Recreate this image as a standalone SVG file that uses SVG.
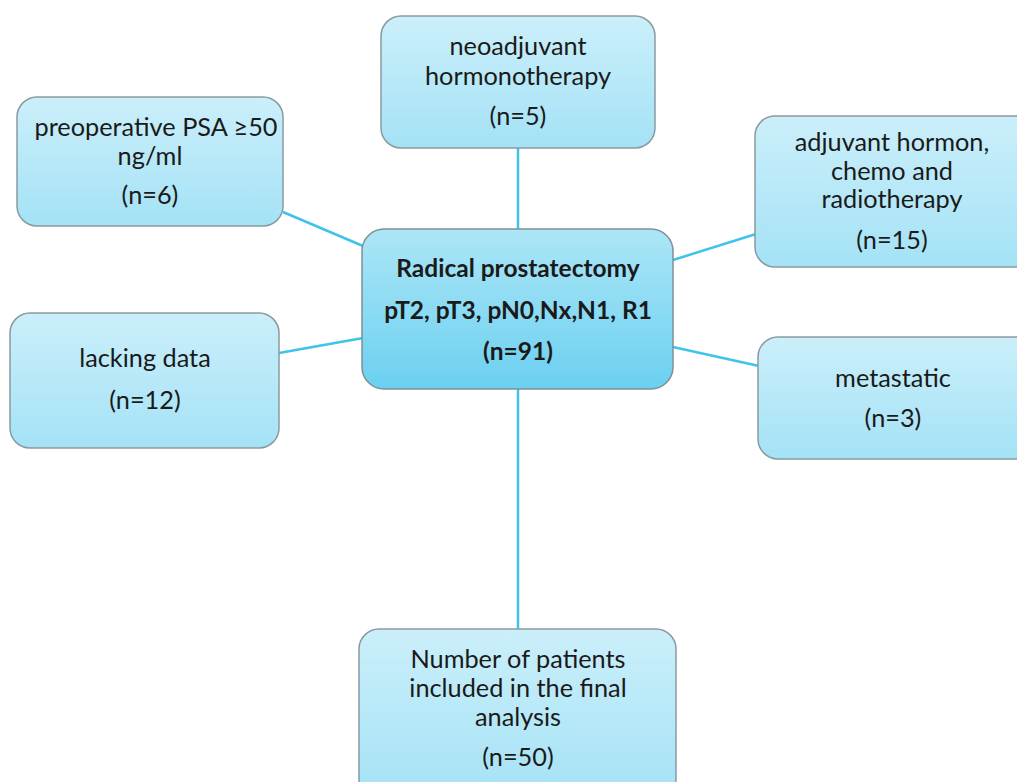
<svg xmlns="http://www.w3.org/2000/svg" width="1017" height="782" viewBox="0 0 1017 782">
<defs>
<linearGradient id="gBox" x1="0" y1="0" x2="0" y2="1">
<stop offset="0" stop-color="#cbeffa"/>
<stop offset="1" stop-color="#a4e2f6"/>
</linearGradient>
<linearGradient id="gMain" x1="0" y1="0" x2="0" y2="1">
<stop offset="0" stop-color="#ace6f7"/>
<stop offset="1" stop-color="#6bd0f0"/>
</linearGradient>
</defs>
<style>
.box{fill:url(#gBox);stroke:#8a9aa0;stroke-width:1.5}
.main{fill:url(#gMain);stroke:#7f9096;stroke-width:1.5}
.t{font-family:Lato,"Open Sans","Liberation Sans",sans-serif;font-size:25.3px;fill:#1a1a1a;text-anchor:middle}
.b{font-weight:bold;font-size:24.5px}
.c{stroke:#3ec4ea;stroke-width:2.5;fill:none}
</style>
<rect width="1017" height="782" fill="#ffffff"/>
<g id="connectors">
<line class="c" x1="518" y1="148" x2="518" y2="230"/>
<line class="c" x1="283" y1="212" x2="363" y2="246"/>
<line class="c" x1="673" y1="260" x2="756" y2="234"/>
<line class="c" x1="279" y1="353" x2="363" y2="338"/>
<line class="c" x1="673" y1="347" x2="759" y2="366"/>
<line class="c" x1="518" y1="388" x2="518" y2="630"/>
</g>
<g id="neoadjuvant">
<rect class="box" x="381" y="16" width="274" height="132" rx="20"/>
<text class="t" x="518" y="55">neoadjuvant</text>
<text class="t" x="518" y="85">hormonotherapy</text>
<text class="t" x="518" y="125">(n=5)</text>
</g>
<g id="psa">
<rect class="box" x="17" y="97" width="266" height="129" rx="20"/>
<text class="t" x="156" y="136">preoperative PSA ≥50</text>
<text class="t" x="150" y="165">ng/ml</text>
<text class="t" x="150" y="204">(n=6)</text>
</g>
<g id="adjuvant">
<rect class="box" x="755" y="116" width="280" height="151" rx="20"/>
<text class="t" x="892" y="151">adjuvant hormon,</text>
<text class="t" x="892" y="180">chemo and</text>
<text class="t" x="892" y="208">radiotherapy</text>
<text class="t" x="892" y="249">(n=15)</text>
</g>
<g id="main">
<rect class="main" x="362" y="229" width="311" height="160" rx="22"/>
<text class="t b" x="518" y="277">Radical prostatectomy</text>
<text class="t b" x="518" y="319">pT2, pT3, pN0,Nx,N1, R1</text>
<text class="t b" x="518" y="360">(n=91)</text>
</g>
<g id="lacking">
<rect class="box" x="10" y="313" width="269" height="135" rx="20"/>
<text class="t" x="145" y="367">lacking data</text>
<text class="t" x="145" y="409">(n=12)</text>
</g>
<g id="metastatic">
<rect class="box" x="758" y="337" width="280" height="122" rx="20"/>
<text class="t" x="893" y="387">metastatic</text>
<text class="t" x="893" y="427">(n=3)</text>
</g>
<g id="final">
<rect class="box" x="359" y="629" width="317" height="170" rx="20"/>
<text class="t" x="518" y="668">Number of patients</text>
<text class="t" x="518" y="697">included in the final</text>
<text class="t" x="518" y="726">analysis</text>
<text class="t" x="518" y="766">(n=50)</text>
</g>
</svg>
